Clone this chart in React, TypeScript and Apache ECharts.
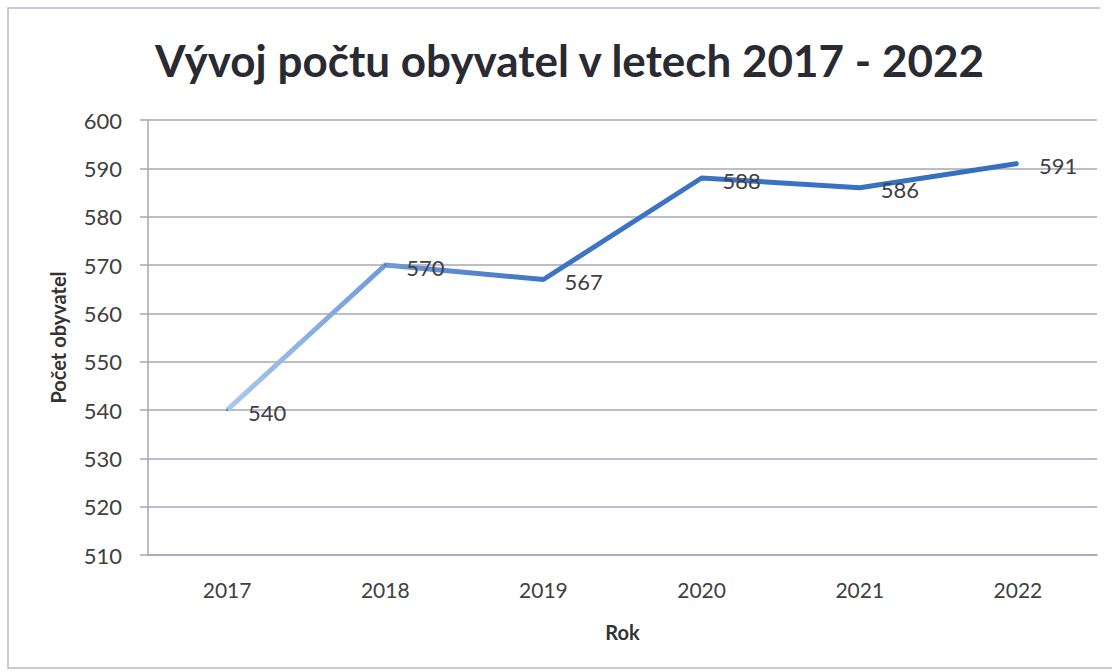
import React, { useEffect, useRef } from "react";
import * as echarts from "echarts";

const years = ["2017", "2018", "2019", "2020", "2021", "2022"];
const population = [540, 570, 567, 588, 586, 591];
const yMin = 510;
const yMax = 600;
const yStep = 10;
const titleText = "Vývoj počtu obyvatel v letech 2017 - 2022";
const yName = "Počet obyvatel";
const xName = "Rok";

export default function App() {
  const ref = useRef<HTMLDivElement>(null);
  useEffect(() => {
    if (!ref.current) return;
    const chart = echarts.init(ref.current, undefined, { renderer: "svg" });
    const font = "Lato, 'Open Sans', sans-serif";
    const gridColor = "#a6a6bc";
    chart.setOption({
      animation: false,
      backgroundColor: "#ffffff",
      textStyle: { fontFamily: font },
      title: {
        text: titleText,
        left: 150,
        top: 33,
        textStyle: { fontFamily: font, fontSize: 44, fontWeight: "bold", color: "#2a2a33" },
      },
      graphic: [
        {
          type: "polyline",
          shape: { points: [[1100, 8], [8, 8], [8, 668], [1112, 668]] },
          style: { fill: "none", stroke: "#b8b8c6", lineWidth: 1.5 },
          silent: true,
        },
      ],
      grid: { left: 148, right: 15, top: 120, bottom: 117 },
      xAxis: {
        type: "category",
        data: years,
        boundaryGap: true,
        name: xName,
        nameLocation: "middle",
        nameGap: 67,
        nameTextStyle: { fontFamily: font, fontSize: 20, fontWeight: "bold", color: "#333333" },
        axisLine: { show: true, lineStyle: { color: gridColor, width: 1.5 } },
        axisTick: { show: false },
        axisLabel: { fontFamily: font, fontSize: 21, color: "#404040", margin: 24 },
      },
      yAxis: {
        type: "value",
        min: yMin,
        max: yMax,
        interval: yStep,
        name: yName,
        nameLocation: "middle",
        nameRotate: 90,
        nameGap: 80,
        nameTextStyle: { fontFamily: font, fontSize: 20, fontWeight: "bold", color: "#333333" },
        axisLine: { show: true, lineStyle: { color: gridColor, width: 1.5 } },
        axisTick: { show: true, inside: false, length: 8, lineStyle: { color: gridColor, width: 1.5 } },
        axisLabel: { fontFamily: font, fontSize: 22, color: "#404040", margin: 26 },
        splitLine: { show: true, lineStyle: { color: gridColor, width: 1.5 } },
      },
      series: [
        {
          type: "line",
          data: population,
          symbol: "circle",
          symbolSize: 2,
          itemStyle: { color: "#3d73c3" },
          lineStyle: {
            width: 5,
            color: new echarts.graphic.LinearGradient(0, 0, 1, 0, [
              { offset: 0, color: "#a9c9ec" },
              { offset: 0.2, color: "#6e9bd8" },
              { offset: 0.4, color: "#3f75c4" },
              { offset: 1, color: "#3470c0" },
            ]),
          },
          label: {
            show: true,
            position: "right",
            distance: 20,
            offset: [0, 2],
            fontFamily: font,
            fontSize: 22,
            color: "#404040",
          },
        },
      ],
    });
    return () => chart.dispose();
  }, []);
  return (
    <div
      ref={ref}
      style={{ position: "fixed", left: 0, top: 0, width: 1112, height: 672 }}
    />
  );
}
